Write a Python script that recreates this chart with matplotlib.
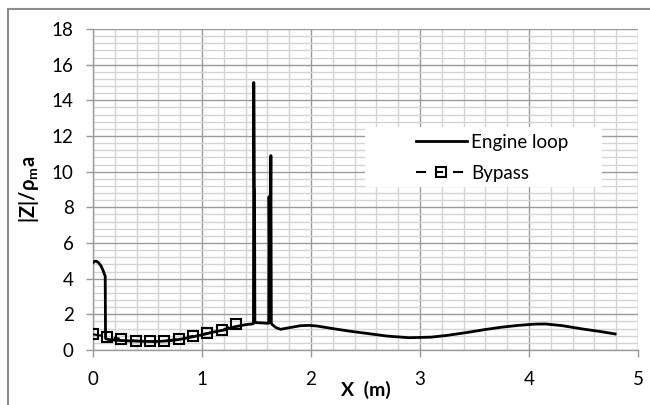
import matplotlib
matplotlib.use("Agg")
import matplotlib.pyplot as plt
from matplotlib.patches import Rectangle
from matplotlib.ticker import MultipleLocator

plt.rcParams['font.family'] = ['Lato', 'DejaVu Sans']
plt.rcParams['mathtext.fontset'] = 'custom'
plt.rcParams['mathtext.rm'] = 'Lato'
plt.rcParams['mathtext.bf'] = 'Lato:bold'

# ---- data ----
engine_x = [0.0, 0.015, 0.03, 0.05, 0.07, 0.09, 0.105, 0.112, 0.115, 0.13, 0.2, 0.3, 0.4, 0.5,
            0.6, 0.7, 0.8, 0.9, 1.0, 1.1, 1.2, 1.3, 1.4, 1.46, 1.472, 1.475, 1.48, 1.482,
            1.485, 1.5, 1.55, 1.6, 1.612, 1.615, 1.62, 1.626, 1.632, 1.636, 1.645, 1.68,
            1.72, 1.8, 1.9, 1.98, 2.05, 2.2, 2.35, 2.5, 2.7, 2.9, 3.1, 3.25, 3.45, 3.6,
            3.75, 3.9, 4.05, 4.15, 4.3, 4.5, 4.65, 4.79]
engine_y = [4.9, 4.97, 4.98, 4.9, 4.75, 4.5, 4.25, 4.15, 0.65, 0.6, 0.55, 0.52, 0.5, 0.48,
            0.48, 0.52, 0.6, 0.72, 0.85, 1.0, 1.12, 1.3, 1.42, 1.46, 1.48, 15.0, 9.1, 9.0,
            1.55, 1.53, 1.52, 1.5, 1.5, 8.6, 4.6, 4.6, 10.9, 1.5, 1.42, 1.25,
            1.16, 1.25, 1.36, 1.38, 1.35, 1.2, 1.06, 0.94, 0.78, 0.69, 0.72, 0.82, 1.0, 1.15,
            1.28, 1.38, 1.45, 1.46, 1.37, 1.17, 1.04, 0.9]

bypass_x = [0.0, 0.128, 0.26, 0.39, 0.52, 0.65, 0.786, 0.917, 1.05, 1.186, 1.314]
bypass_y = [0.88, 0.75, 0.62, 0.52, 0.48, 0.51, 0.62, 0.79, 0.94, 1.12, 1.44]

x_ticks = [0, 1, 2, 3, 4, 5]
y_ticks = [0, 2, 4, 6, 8, 10, 12, 14, 16, 18]
series_labels = ["Engine loop", "Bypass"]

# ---- figure ----
fig = plt.figure(figsize=(6.5, 4.05), dpi=100)
ax = fig.add_axes([93/650, 1-350/405, (638-93)/650, (350-29)/405])

major_c = '#9a9a9a'
minor_c = '#d4d4d4'

ax.set_xlim(0, 5)
ax.set_ylim(0, 18)
ax.set_xticks(x_ticks)
ax.set_yticks(y_ticks)
ax.xaxis.set_minor_locator(MultipleLocator(0.2))
ax.yaxis.set_minor_locator(MultipleLocator(0.4))
ax.set_axisbelow(True)
ax.grid(True, which='minor', color=minor_c, lw=1.0)
ax.grid(True, which='major', color=major_c, lw=1.0)

for s in ['top', 'right']:
    ax.spines[s].set_visible(False)
for s in ['left', 'bottom']:
    ax.spines[s].set_color(major_c)
    ax.spines[s].set_linewidth(1.0)

ax.tick_params(axis='both', which='major', direction='out', length=5, width=1,
               color=major_c, labelsize=13.5, labelcolor='black')
ax.tick_params(axis='x', which='major', pad=10)
ax.tick_params(axis='y', which='major', pad=9)
ax.tick_params(axis='both', which='minor', length=0)

ax.plot(engine_x, engine_y, color='black', lw=2.0, solid_joinstyle='round',
        label=series_labels[0], zorder=3)
ax.plot(bypass_x, bypass_y, color='black', lw=1.5,
        linestyle=(0, (4.8, 5.3, 2.9, 4.8)),
        marker='s', markersize=7, markerfacecolor='none', markeredgecolor='black',
        markeredgewidth=1.5, label=series_labels[1], zorder=4)

# legend background
ax.add_patch(Rectangle((0.499, 0.508), 0.435, 0.187, transform=ax.transAxes,
                       facecolor='white', edgecolor='none', zorder=1.5))
leg = ax.legend(loc='upper left', bbox_to_anchor=(0.5927, 0.674), frameon=False,
                fontsize=13.5, handlelength=2.7, handletextpad=0.25, labelspacing=0.75,
                borderpad=0, borderaxespad=0)

ax.set_xlabel('X  (m)', fontsize=14, fontweight='bold', labelpad=-5)
ax.set_ylabel(r'|Z|/ρ$_\mathbf{m}$a', fontsize=14.5, fontweight='bold', labelpad=8)

# outer chart border
fig.patches.append(Rectangle((8/650, -0.1), 1.1, 1-9/405+0.1, transform=fig.transFigure,
                             facecolor='none', edgecolor='#8c8c8c', lw=1.5, clip_on=False))

fig.savefig('out.png', dpi=100)
